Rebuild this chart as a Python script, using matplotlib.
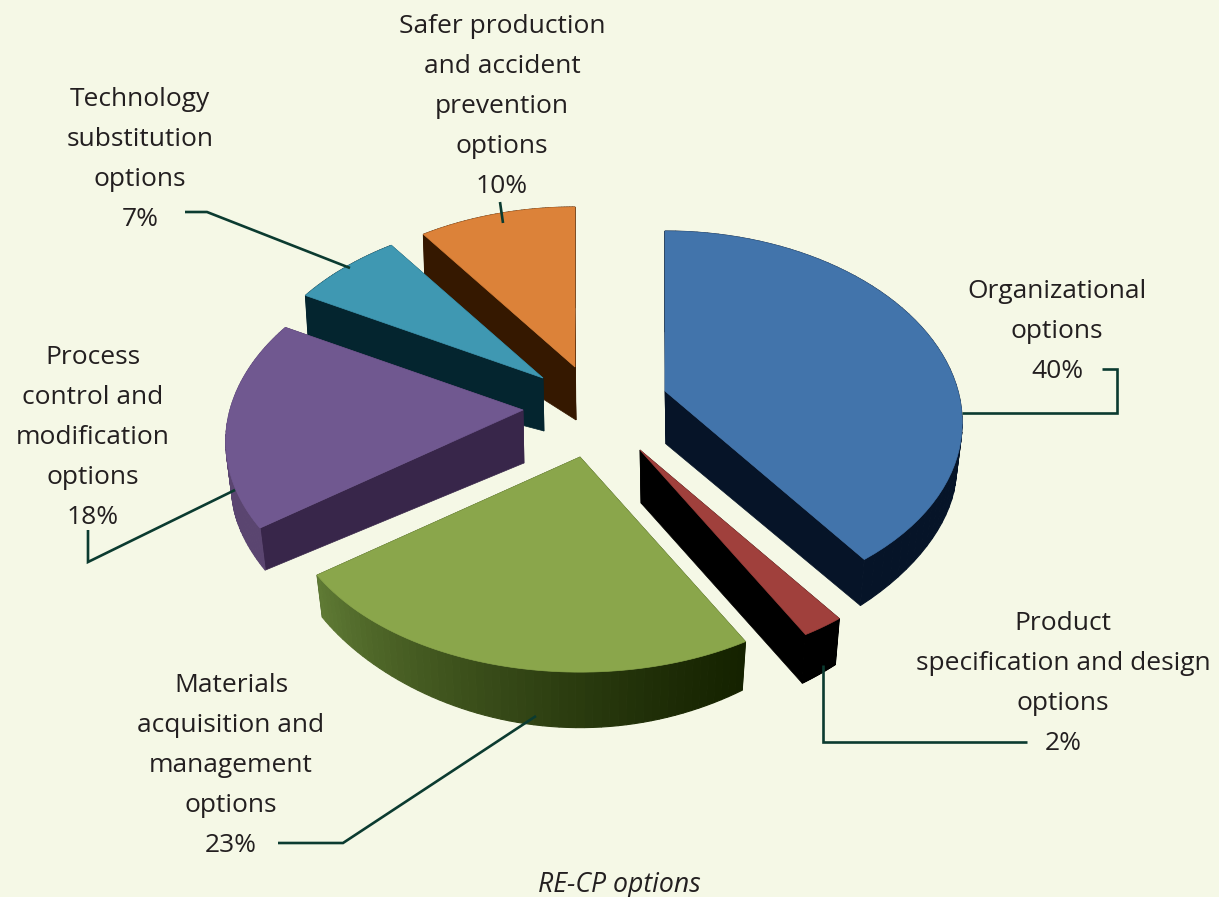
import matplotlib
matplotlib.use("Agg")
import matplotlib.pyplot as plt
import numpy as np
from matplotlib.colors import to_rgb
from matplotlib.patches import Polygon

# shares of each slice, clockwise from 12 o'clock
names = ["Organizational", "Product", "Materials", "Process", "Technology", "Safer"]
shares = [40, 2, 23, 18, 7, 10]

# where each slice's apex got exploded to (pixels)
apex_x = [665, 640, 580, 523, 543, 575]
apex_y = [391, 450, 457, 410, 378, 367]

top_colors = ["#4274AB", "#A0403C", "#8AA64B", "#705890", "#3F98B2", "#DC8239"]
side_colors = ["#061428", "#000000", "#1A2A05", "#38264A", "#04252F", "#351800"]
# rim colour at the start and end of the slice's arc
rim_colors = [
    ("#061428", "#061428"),
    ("#000000", "#000000"),
    ("#152200", "#5F7A34"),
    ("#5A4570", "#5A4570"),
    ("#04252F", "#04252F"),
    ("#351800", "#351800"),
]
draw_order = [5, 4, 3, 0, 2, 1]

label_lines = [
    (1057, 298, ["Organizational", "options", "40%"]),
    (1063, 630, ["Product", "specification and design", "options", "2%"]),
    (231, 692, ["Materials", "acquisition and", "management", "options", "23%"]),
    (93, 364, ["Process", "control and", "modification", "options", "18%"]),
    (140, 106, ["Technology", "substitution", "options", "7%"]),
    (502, 33, ["Safer production", "and accident", "prevention", "options", "10%"]),
]

leaders = [
    [(1102, 369), (1117, 369), (1117, 413), (962, 413)],
    [(823, 665), (823, 742), (1027, 742)],
    [(278, 843), (343, 843), (536, 716)],
    [(88, 530), (88, 562), (235, 490)],
    [(185, 212), (207, 212), (350, 268)],
    [(500, 202), (503, 223)],
]

BG = "#F5F8E6"
LINE = "#0B3B30"
TEXT = "#231F20"


def top_pt(theta, cx, cy):
    c, s = np.cos(theta), np.sin(theta)
    return cx + 293 * c / (1 + 0.168 * s), cy - 183.5 * s / (1 + 0.147 * s)


def bottom_pt(theta, cx, cy):
    c, s = np.cos(theta), np.sin(theta)
    return cx + 0.98 * 293 * c / (1 + 0.168 * s), cy + 53 - 148 * s / (1 + 0.32 * s)


def mix(a, b, t):
    a, b = np.array(to_rgb(a)), np.array(to_rgb(b))
    return tuple(a + (b - a) * t)


fig, ax = plt.subplots(figsize=(12.19, 8.97), dpi=100)
fig.patch.set_facecolor(BG)
ax.set_position([0, 0, 1, 1])
ax.set_xlim(0, 1219)
ax.set_ylim(897, 0)
ax.axis("off")

ends = np.pi / 2 - np.cumsum(shares) / 100 * 2 * np.pi
starts = np.concatenate([[np.pi / 2], ends[:-1]])

for i in draw_order:
    cx, cy = apex_x[i], apex_y[i]
    arc = np.linspace(starts[i], ends[i], 60)
    top = [top_pt(t, cx, cy) for t in arc]
    bot = [bottom_pt(t, cx, cy) for t in arc]
    ap_b = (cx + 1, cy + 53)

    # radial side faces
    for j in (0, -1):
        ax.add_patch(Polygon([(cx, cy), top[j], bot[j], ap_b], fc=side_colors[i], ec=side_colors[i], lw=0.5))

    # outer rim, in small strips so it can carry a gradient
    c0, c1 = rim_colors[i]
    for k in range(len(arc) - 1):
        col = mix(c0, c1, (k / (len(arc) - 2)) ** 1.2)
        ax.add_patch(Polygon([top[k], top[k + 1], bot[k + 1], bot[k]], fc=col, ec=col, lw=0.8))

    ax.add_patch(Polygon([(cx, cy)] + top, fc=top_colors[i], ec=top_colors[i], lw=0.5))

for pts in leaders:
    xs, ys = zip(*pts)
    ax.plot(xs, ys, color=LINE, lw=1.9, solid_joinstyle="miter", solid_capstyle="butt")

for x, y, lines in label_lines:
    for n, line in enumerate(lines):
        ax.text(x, y + n * 40.1, line, ha="center", va="baseline", fontsize=19,
                family="Open Sans", color=TEXT)

ax.text(619, 892, "RE-CP options", ha="center", va="baseline", fontsize=19.2,
        family="Open Sans", style="italic", color=TEXT)

fig.savefig("out.png", dpi=100, facecolor=BG)
